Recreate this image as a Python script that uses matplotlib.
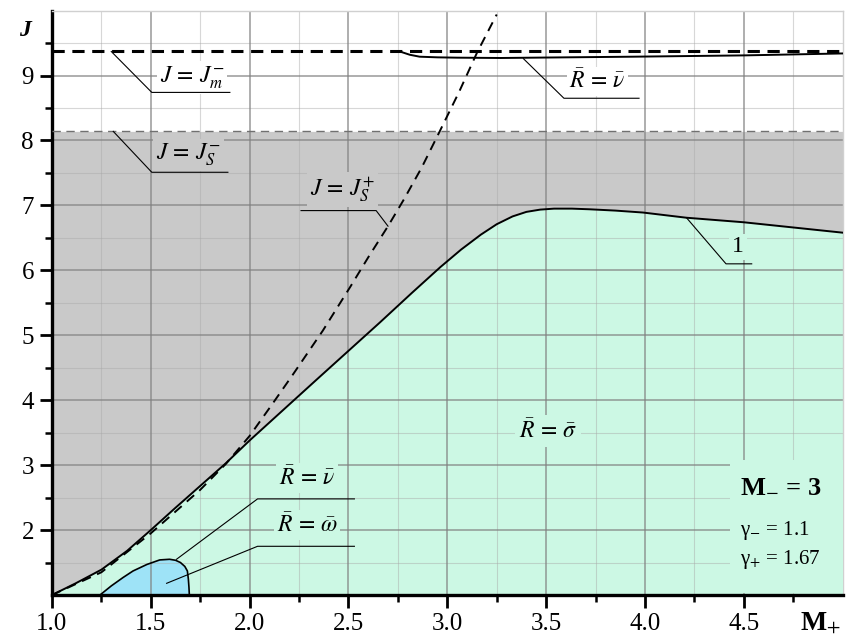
import matplotlib
matplotlib.use("Agg")
import matplotlib.pyplot as plt
import numpy as np

plt.rcParams["font.family"] = ["Liberation Serif", "DejaVu Serif"]
plt.rcParams["mathtext.fontset"] = "stix"

# boundary 1 (separates R=sigma region from the grey zone)
curve1_m = [1.0, 1.12, 1.25, 1.38, 1.5, 1.62, 1.75, 1.88, 2.0, 2.17, 2.34, 2.5, 2.66,
            2.82, 2.965, 3.07, 3.17, 3.25, 3.33, 3.40, 3.47, 3.54, 3.63, 3.72, 3.85,
            3.99, 4.21, 4.5, 4.75, 5.0]
curve1_j = [1.0, 1.18, 1.39, 1.68, 2.0, 2.33, 2.68, 3.03, 3.38, 3.85, 4.32, 4.76, 5.2,
            5.65, 6.05, 6.32, 6.55, 6.71, 6.83, 6.90, 6.935, 6.95, 6.95, 6.94, 6.92,
            6.89, 6.81, 6.74, 6.66, 6.58]

# J = J_S^+ (dashed)
js_plus_m = [1.0, 1.25, 1.5, 1.75, 1.88, 2.0, 2.11, 2.22, 2.37, 2.51, 2.60, 2.70,
             2.78, 2.87, 2.96, 3.06, 3.15, 3.25]
js_plus_j = [1.0, 1.35, 1.95, 2.62, 3.02, 3.45, 3.92, 4.40, 5.07, 5.75, 6.20, 6.68,
             7.09, 7.58, 8.13, 8.75, 9.35, 9.94]

# upper branch R = nu
upper_m = [2.76, 2.81, 2.86, 2.95, 3.05, 3.27, 3.6, 3.94, 4.5, 5.0]
upper_j = [9.37, 9.32, 9.29, 9.28, 9.275, 9.27, 9.28, 9.29, 9.31, 9.34]

# small region R = omega
omega_m = [1.243, 1.30, 1.36, 1.41, 1.48, 1.545, 1.595, 1.625, 1.65, 1.672, 1.685,
           1.69, 1.693, 1.695]
omega_j = [1.0, 1.14, 1.27, 1.37, 1.47, 1.54, 1.55, 1.535, 1.50, 1.44, 1.37, 1.245,
           1.12, 1.0]

J_M_MINUS = 9.37
J_S_MINUS = 8.14

x_ticks = [1.0, 1.5, 2.0, 2.5, 3.0, 3.5, 4.0, 4.5]
x_labels = ["1.0", "1.5", "2.0", "2.5", "3.0", "3.5", "4.0", "4.5"]
y_ticks = [2, 3, 4, 5, 6, 7, 8, 9]

GREY = "#c9c9c9"
MINT = "#ccf8e4"
BLUE = "#9ee3f7"

fig = plt.figure(figsize=(8.52, 6.38), dpi=100)
ax = fig.add_axes([0.061, 0.0674, 0.928, 0.916])

ax.fill_between(curve1_m, curve1_j, J_S_MINUS, color=GREY, lw=0, zorder=1)
ax.fill_between(curve1_m, 1.0, curve1_j, color=MINT, lw=0, zorder=1)
ax.fill(omega_m, omega_j, color=BLUE, lw=0, zorder=1.5)

# grid over the filled areas
for v in np.arange(1.25, 5.0, 0.5):
    ax.axvline(v, color="#a8a8a8", lw=0.8, alpha=0.45, zorder=2)
for v in np.arange(1.5, 10.0, 1.0):
    ax.axhline(v, color="#a8a8a8", lw=0.8, alpha=0.45, zorder=2)
for v in x_ticks[1:]:
    ax.axvline(v, color="#808080", lw=1.1, alpha=0.8, zorder=2)
for v in y_ticks:
    ax.axhline(v, color="#808080", lw=1.1, alpha=0.8, zorder=2)

ax.plot(curve1_m, curve1_j, color="black", lw=1.4, zorder=4)
ax.plot(omega_m, omega_j, color="black", lw=1.2, zorder=4)
ax.plot(js_plus_m, js_plus_j, color="black", lw=1.4, ls=(0, (5, 3.5)), zorder=4)
ax.plot(upper_m, upper_j, color="black", lw=1.4, zorder=4)
ax.axhline(J_M_MINUS, color="black", lw=2.2, ls=(0, (4, 2.5)), zorder=4)
ax.axhline(J_S_MINUS, color="#707070", lw=1.0, ls=(0, (6, 4)), zorder=4)


def tag(text, tx, ty, line_pts, bg, size=17):
    xs = [p[0] for p in line_pts]
    ys = [p[1] for p in line_pts]
    ax.plot(xs, ys, color="black", lw=0.8, zorder=7)
    ax.text(tx, ty, text, fontsize=size, ha="center", va="center", zorder=6,
            bbox=dict(facecolor=bg, edgecolor="none", pad=2))


tag(r"$J\,=\,J_{m}^{-}$", 1.71, 8.97,
    [(1.30, J_M_MINUS), (1.505, 8.74), (1.90, 8.74)], "white")
tag(r"$J\,=\,J_{S}^{-}$", 1.69, 7.78,
    [(1.31, J_S_MINUS), (1.505, 7.51), (1.89, 7.51)], GREY)
tag(r"$J\,=\,J_{S}^{+}$", 2.47, 7.24,
    [(2.70, 6.68), (2.64, 6.92), (2.26, 6.92)], GREY)
tag(r"$\bar{R}\,=\,\bar{\nu}$", 3.76, 8.91,
    [(3.385, 9.26), (3.59, 8.65), (3.97, 8.65)], "white")
tag(r"$\bar{R}\,=\,\bar{\nu}$", 2.29, 2.80,
    [(1.63, 1.55), (2.04, 2.48), (2.53, 2.48)], MINT)
tag(r"$\bar{R}\,=\,\bar{\omega}$", 2.29, 2.08,
    [(1.58, 1.18), (2.04, 1.75), (2.53, 1.75)], MINT)
tag("1", 4.47, 6.36, [(4.21, 6.81), (4.41, 6.10), (4.54, 6.10)], MINT)

ax.text(3.51, 3.52, r"$\bar{R}\,=\,\bar{\sigma}$",
        fontsize=17, ha="center", va="center", zorder=6,
        bbox=dict(facecolor=MINT, edgecolor="none", pad=3))

# parameter block
ax.add_patch(plt.Rectangle((4.43, 1.03), 0.57, 2.05, facecolor=MINT,
                           edgecolor="none", zorder=3))
ax.text(4.48, 2.68, r"M$_{-}$ = 3", fontsize=19, fontweight="bold",
        ha="left", va="center", zorder=6)
ax.text(4.48, 2.0, r"γ$_{-}$ = 1.1", fontsize=15, ha="left", va="center", zorder=6)
ax.text(4.48, 1.55, r"γ$_{+}$ = 1.67", fontsize=15, ha="left", va="center", zorder=6)

ax.set_xlim(1.0, 5.0)
ax.set_ylim(1.0, 10.0)
ax.set_xticks(x_ticks)
ax.set_xticklabels(x_labels)
ax.set_xticks(np.arange(1.25, 5.0, 0.5), minor=True)
ax.set_yticks(y_ticks)
ax.set_yticks(np.arange(1.5, 10.0, 1.0), minor=True)
ax.tick_params(axis="both", which="major", direction="out", length=9, width=2,
               labelsize=18, pad=4)
ax.tick_params(axis="both", which="minor", direction="out", length=5, width=1.8)

for side in ("left", "bottom"):
    ax.spines[side].set_linewidth(2.4)
for side in ("top", "right"):
    ax.spines[side].set_color("#d0d0d0")
    ax.spines[side].set_linewidth(1.0)

ax.text(-0.034, 0.966, "J", transform=ax.transAxes, fontsize=17,
        fontstyle="italic", fontweight="bold", ha="center", va="center")
ax.text(0.972, -0.048, r"M$_{+}$", transform=ax.transAxes, fontsize=20,
        fontweight="bold", ha="center", va="center", clip_on=False)

fig.savefig("out.png", dpi=100)
